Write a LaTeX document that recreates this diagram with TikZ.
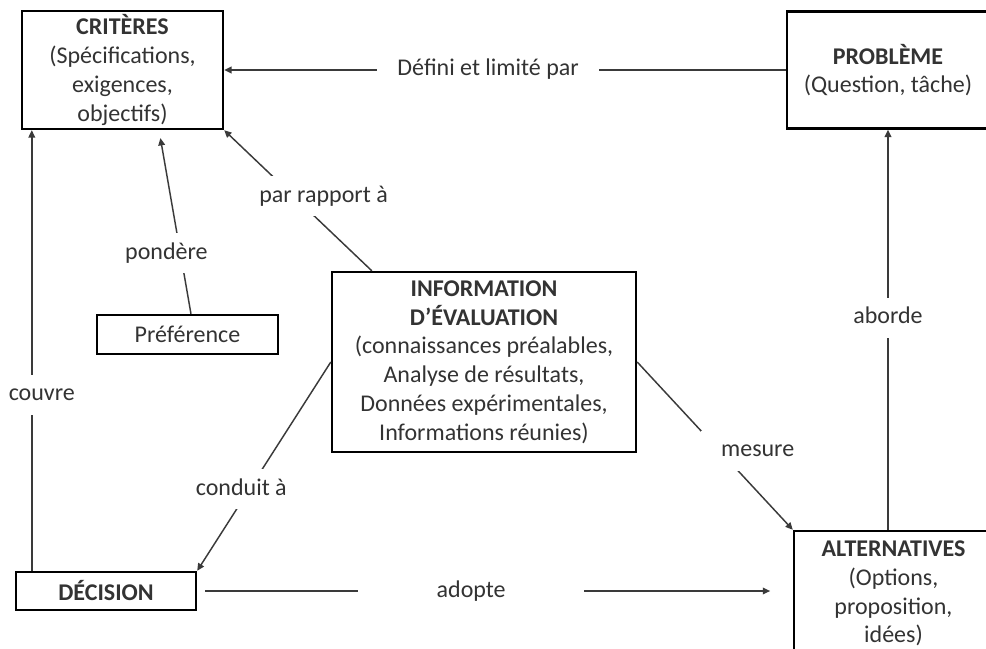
\documentclass[tikz,border=0pt]{standalone}
\usepackage{fontspec}
\setmainfont{Carlito}
\usetikzlibrary{arrows.meta}
\definecolor{texte}{HTML}{333333}
\definecolor{trait}{HTML}{3A3A3A}

\begin{document}
\begin{tikzpicture}[x=0.75pt, y=-0.75pt, >={Triangle[length=5.5pt,width=5pt]},
    boite/.style={draw=black, line width=1.8pt, align=center, inner sep=0pt,
        text=texte, font=\fontsize{18pt}{21.6pt}\selectfont},
    lien/.style={->, draw=trait, line width=1.1pt},
    etiq/.style={fill=white, text=texte, font=\fontsize{18pt}{21.6pt}\selectfont,
        inner xsep=6pt, inner ysep=6.75pt, text height=12.75pt, text depth=3.75pt}]
    % --- Cadre ---
    \useasboundingbox (0,0) rectangle (986,649);
    \clip (0,0) rectangle (986,649);

    % --- Boites ---
    \node[boite, minimum width=150.75pt, minimum height=88.5pt] (crit) at (122.5,70)
        {\textbf{CRITÈRES}\\(Spécifications,\\exigences,\\objectifs)};
    \node[boite, minimum width=151.5pt, minimum height=87.75pt] (prob) at (888,70)
        {\textbf{PROBLÈME}\\(Question, tâche)};
    \node[boite, minimum width=228pt, minimum height=135pt] (info) at (484,362)
        {\textbf{INFORMATION}\\\textbf{D’ÉVALUATION}\\(connaissances préalables,\\Analyse de résultats,\\Données expérimentales,\\Informations réunies)};
    \node[boite, minimum width=135.75pt, minimum height=29.25pt] (pref) at (187.5,334.5) {Préférence};
    \node[boite, minimum width=135pt, minimum height=28.5pt] (dec) at (106,591) {\textbf{DÉCISION}};
    \node[boite, minimum width=149.25pt, minimum height=93.75pt] (alt) at (893.5,593.5)
        {\textbf{ALTERNATIVES}\\(Options,\\proposition,\\idées)};

    % --- Points d'appui ---
    \coordinate (couvreBas) at ([xshift=12.75pt]dec.north west);
    \coordinate (couvreHaut) at (couvreBas |- crit.south);

    % --- Liens ---
    \draw[lien] (prob.west) -- node[etiq, pos=0.53, inner xsep=15pt] {Défini et limité par} (crit.east);
    \draw[lien] (couvreBas) -- node[etiq, pos=0.4, xshift=7.5pt] {couvre} (couvreHaut);
    \draw[lien, shorten >=6pt] ([xshift=2.6pt]pref.north) -- node[etiq, pos=0.33, xshift=-10.5pt] {pondère} ([xshift=27.4pt]crit.south);
    \draw[lien] ([xshift=30.75pt]info.north west) -- node[etiq, pos=0.53, xshift=22.5pt] {par rapport à} (crit.south east);
    \draw[lien] (info.west) -- node[etiq, pos=0.61, xshift=-6pt] {conduit à} (dec.north east);
    \draw[lien] (info.east) -- node[etiq, pos=0.53, xshift=28.5pt, inner xsep=15pt] {mesure} (alt.north west);
    \draw[lien, shorten <=6pt, shorten >=17pt] (dec.east) -- node[etiq, pos=0.46, inner xsep=59pt] {adopte} (alt.west |- dec.east);
    \draw[lien] (prob.south |- alt.north) -- node[etiq, pos=0.53] {aborde} (prob.south);
\end{tikzpicture}
\end{document}
